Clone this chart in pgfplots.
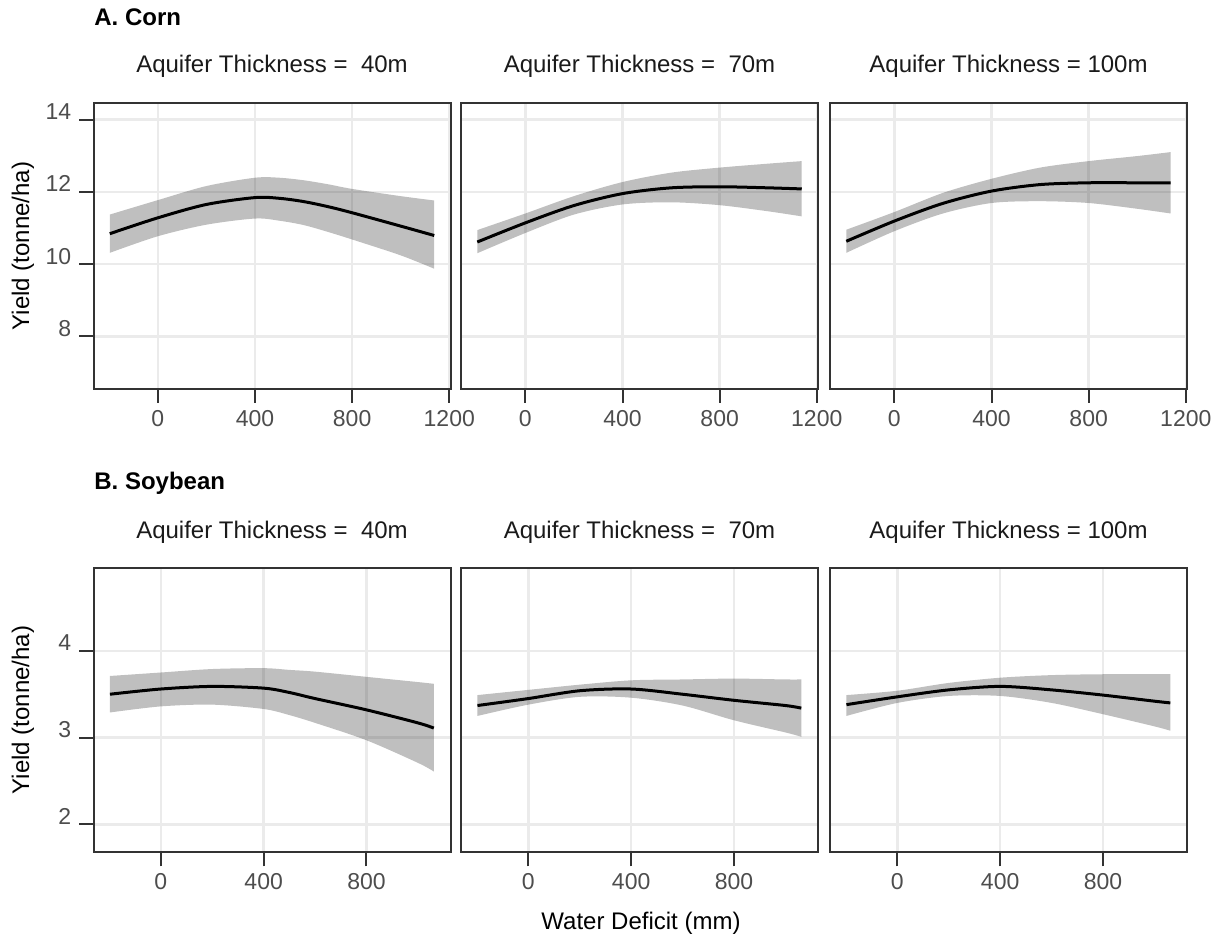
\documentclass[border=0pt]{standalone}
\usepackage{fontspec}
\setmainfont{Liberation Sans}
\usepackage{pgfplots}
\usepackage{pgfplotstable}
\pgfplotsset{compat=1.18}
\usepgfplotslibrary{fillbetween}
\definecolor{bord}{HTML}{333333}
\definecolor{grd}{HTML}{EBEBEB}
\definecolor{tlab}{HTML}{4D4D4D}
\definecolor{strip}{HTML}{1A1A1A}
\newcommand\tickfont{\fontsize{11.5}{13}\selectfont}

\pgfplotstableread{
x m t b
-198 10.84 11.37 10.31
0 11.28 11.77 10.77
200 11.65 12.16 11.09
400 11.84 12.39 11.26
500 11.82 12.39 11.20
600 11.73 12.32 11.08
700 11.59 12.21 10.89
800 11.42 12.08 10.68
1000 11.05 11.88 10.24
1138 10.79 11.76 9.87
}\cornA
\pgfplotstableread{
x m t b
-198 10.61 10.94 10.30
0 11.14 11.40 10.86
200 11.62 11.88 11.37
400 11.95 12.27 11.65
600 12.11 12.53 11.71
800 12.14 12.67 11.63
1000 12.11 12.78 11.46
1138 12.08 12.85 11.32
}\cornB
\pgfplotstableread{
x m t b
-198 10.63 10.95 10.31
0 11.19 11.44 10.91
200 11.68 11.97 11.40
400 12.02 12.36 11.69
600 12.20 12.67 11.74
800 12.25 12.85 11.69
1000 12.25 12.99 11.53
1138 12.25 13.10 11.40
}\cornC
\pgfplotstableread{
x m t b
-198 3.50 3.71 3.29
0 3.56 3.75 3.36
200 3.59 3.79 3.38
400 3.57 3.80 3.33
500 3.52 3.78 3.26
600 3.45 3.76 3.17
800 3.32 3.70 2.97
1000 3.17 3.64 2.71
1062 3.11 3.62 2.61
}\soyA
\pgfplotstableread{
x m t b
-198 3.37 3.49 3.25
0 3.45 3.55 3.38
200 3.54 3.61 3.47
400 3.56 3.66 3.46
600 3.50 3.67 3.37
800 3.43 3.68 3.20
1000 3.37 3.67 3.06
1062 3.34 3.67 3.01
}\soyB
\pgfplotstableread{
x m t b
-198 3.38 3.49 3.25
0 3.47 3.54 3.40
200 3.55 3.63 3.48
400 3.59 3.69 3.48
600 3.55 3.72 3.40
800 3.49 3.73 3.27
1000 3.42 3.73 3.13
1062 3.40 3.73 3.08
}\soyC

\newcommand\band[2]{%
  \addplot[name path=t#2, draw=none, smooth] table[x=x,y=t]{#1};
  \addplot[name path=b#2, draw=none, smooth] table[x=x,y=b]{#1};
  \addplot[fill=black, fill opacity=0.25, draw=none] fill between[of=t#2 and b#2];
  \addplot[black, line width=1.5pt, smooth] table[x=x,y=m]{#1};
}

\pgfplotsset{
  panel/.style={
    scale only axis, width=178.5pt, anchor=south west,
    axis line style={draw=bord, line width=1pt},
    tick align=outside, major tick length=7pt,
    tick style={draw=bord, line width=1pt},
    xtick pos=bottom, ytick pos=left,
    minor tick num=0,
    grid=major, major grid style={draw=grd, line width=1.25pt},
    /pgf/number format/assume math mode=true,
    /pgf/number format/1000 sep={},
    xticklabel style={font=\tickfont, text=tlab, anchor=north, inner sep=0pt, yshift=-3.5pt},
    yticklabel style={font=\tickfont, text=tlab, anchor=base east, inner sep=0pt, xshift=-4pt},
    title style={font=\fontsize{12}{14}\selectfont, text=strip, anchor=base, at={(0.5,1)}, yshift=9pt, inner sep=0pt},
    xticklabel={\tickfont\pgfmathprintnumber[assume math mode=true]{\tick}},
    yticklabel={\tickfont\pgfmathprintnumber[assume math mode=true]{\tick}},
  },
  corn/.style={panel, height=143pt, xmin=-265, xmax=1205, ymin=6.54, ymax=14.46,
    xtick={0,400,800,1200}, ytick={8,10,12,14}},
  soy/.style={panel, height=142pt, xmin=-262, xmax=1127, ymin=1.68, ymax=4.95,
    xtick={0,400,800}, ytick={2,3,4}},
  noy/.style={yticklabel={\relax}, ytick style={draw=none}},
}

\begin{document}
\begin{tikzpicture}
\path (0pt,0pt) rectangle (610pt,470pt);

% Row A
\begin{axis}[corn, at={(46.75pt,275.5pt)}, title={Aquifer Thickness =\ \ 40m}]
\band{\cornA}{a1}
\end{axis}
\begin{axis}[corn, noy, at={(230.5pt,275.5pt)}, title={Aquifer Thickness =\ \ 70m}]
\band{\cornB}{a2}
\end{axis}
\begin{axis}[corn, noy, at={(415pt,275.5pt)}, title={Aquifer Thickness = 100m}]
\band{\cornC}{a3}
\end{axis}

% Row B
\begin{axis}[soy, at={(46.75pt,43.85pt)}, title={Aquifer Thickness =\ \ 40m}]
\band{\soyA}{b1}
\end{axis}
\begin{axis}[soy, noy, at={(230.5pt,43.85pt)}, title={Aquifer Thickness =\ \ 70m}]
\band{\soyB}{b2}
\end{axis}
\begin{axis}[soy, noy, at={(415pt,43.85pt)}, title={Aquifer Thickness = 100m}]
\band{\soyC}{b3}
\end{axis}

\node[anchor=base west, inner sep=0pt, font=\fontsize{12}{14}\selectfont\bfseries] at (47pt,457pt) {A. Corn};
\node[anchor=base west, inner sep=0pt, font=\fontsize{12}{14}\selectfont\bfseries] at (47pt,225pt) {B. Soybean};
\node[rotate=90, inner sep=0pt, font=\fontsize{12}{14}\selectfont] at (11.5pt,347pt) {Yield (tonne/ha)};
\node[rotate=90, inner sep=0pt, font=\fontsize{12}{14}\selectfont] at (11.5pt,115pt) {Yield (tonne/ha)};
\node[anchor=base, inner sep=0pt, font=\fontsize{12}{14}\selectfont] at (320.5pt,5pt) {Water Deficit (mm)};
\end{tikzpicture}
\end{document}
